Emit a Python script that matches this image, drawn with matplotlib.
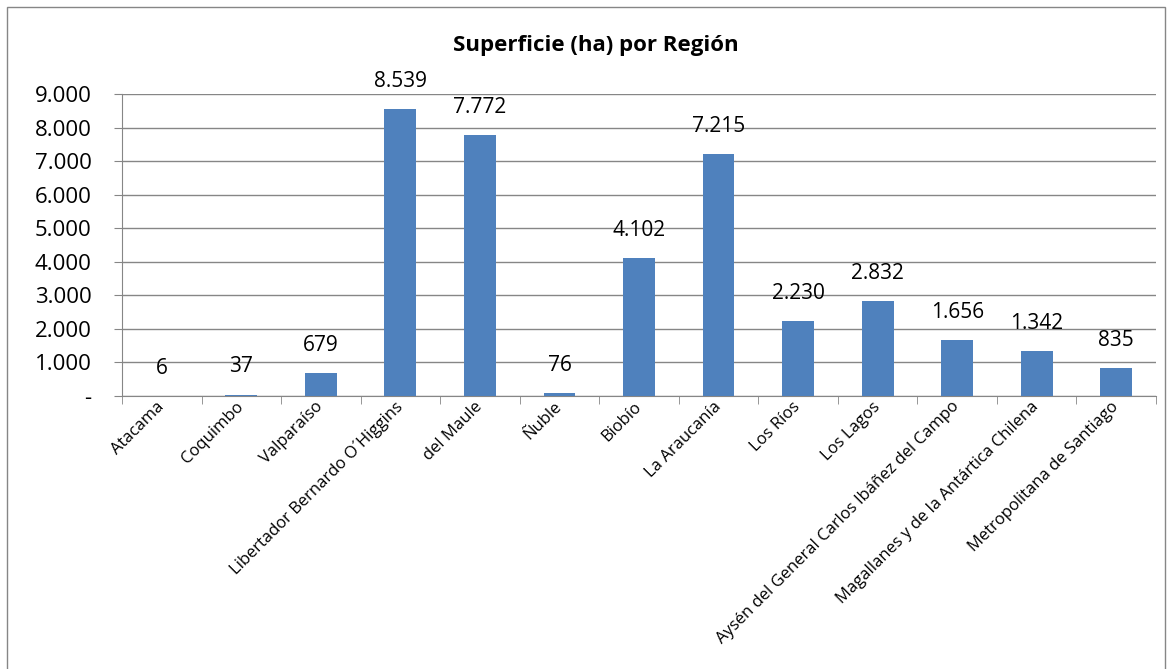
import matplotlib.pyplot as plt
from matplotlib.patches import Rectangle
import numpy as np

regiones = ['Atacama', 'Coquimbo', 'Valparaíso', 'Libertador Bernardo O´Higgins',
            'del Maule', 'Ñuble', 'Biobío', 'La Araucanía', 'Los Ríos', 'Los Lagos',
            'Aysén del General Carlos Ibáñez del Campo',
            'Magallanes y de la Antártica Chilena', 'Metropolitana de Santiago']
superficie = [6, 37, 679, 8539, 7772, 76, 4102, 7215, 2230, 2832, 1656, 1342, 835]
yticks = [0, 1000, 2000, 3000, 4000, 5000, 6000, 7000, 8000, 9000]

plt.rcParams['font.family'] = ['Open Sans', 'DejaVu Sans']

def fmt(v):
    # formato contable tipo Excel: miles con punto, cero como "-"
    if v == 0:
        return '-'
    return f'{v:,.0f}'.replace(',', '.')

fig = plt.figure(figsize=(11.75, 6.69), dpi=100)
fig.patches.append(Rectangle((7 / 1175, -0.1), 1158 / 1175, 1.1 - 7 / 669,
                             transform=fig.transFigure, fill=False,
                             edgecolor='#868686', linewidth=1))

ax = fig.add_axes([122 / 1175, 1 - 396 / 669, 1034 / 1175, 302 / 669])
x = np.arange(len(regiones))
ax.bar(x, superficie, width=0.4, color='#4F81BD', zorder=3)

for xi, v in zip(x, superficie):
    ax.annotate(fmt(v), (xi, v), xytext=(0, 20), textcoords='offset points',
                ha='center', va='center', fontsize=15)

ax.set_xlim(-0.5, len(regiones) - 0.5)
ax.set_ylim(0, 9000)
ax.set_yticks(yticks)
ax.set_yticklabels([fmt(t) for t in yticks], fontsize=16)
ax.yaxis.grid(True, color='#868686', linewidth=1, zorder=0)
ax.tick_params(axis='y', length=6, color='#868686', pad=16)

ax.set_xticks(x)
ax.set_xticklabels(regiones, rotation=45, ha='right', va='center',
                   rotation_mode='anchor', fontsize=12)
ax.tick_params(axis='x', which='major', length=0, pad=6)
ax.set_xticks(np.arange(-0.5, len(regiones)), minor=True)
ax.tick_params(axis='x', which='minor', length=6, color='#868686')

for s in ['top', 'right']:
    ax.spines[s].set_visible(False)
for s in ['left', 'bottom']:
    ax.spines[s].set_color('#868686')

fig.text(596 / 1175, 1 - 46 / 669, 'Superficie (ha) por Región',
         ha='center', va='center', fontsize=16, fontweight='bold')

fig.savefig('out.png', dpi=100)
